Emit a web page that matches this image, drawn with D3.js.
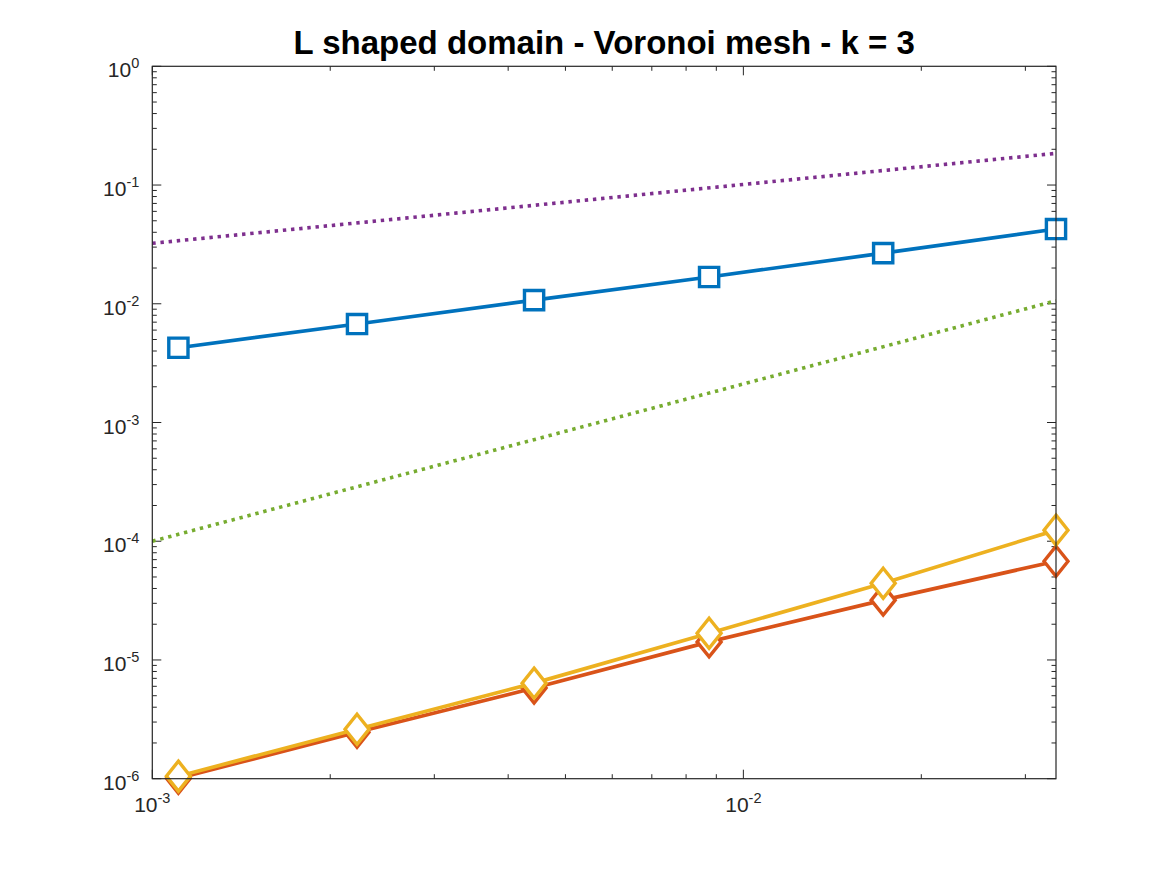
<!DOCTYPE html>
<html>
<head>
<meta charset="utf-8">
<script src="https://cdn.jsdelivr.net/npm/d3@7"></script>
<style>
  html, body { margin: 0; padding: 0; background: #fff; }
  text { font-family: "Liberation Sans", Arial, Helvetica, sans-serif; fill: #262626; }
</style>
</head>
<body>
<script>
// mesh size h and errors
var hVals = [0.001107, 0.00222, 0.004425, 0.00875, 0.01724, 0.0338]
var errBlue = [0.00426, 0.00675, 0.01074, 0.0168, 0.0267, 0.0426]
var errOrange = [1.01e-6, 2.46e-6, 5.8e-6, 1.42e-5, 3.19e-5, 6.79e-5]
var errYellow = [1.05e-6, 2.61e-6, 6.38e-6, 1.68e-5, 4.43e-5, 1.24e-4]

// reference slopes (dotted), endpoints only
var refX = [0.001, 0.0338]
var refPurple = [0.0323, 0.185]
var refGreen = [1.0e-4, 0.0106]

var xTicks = [1e-3, 1e-2]
var xTickExp = ["-3", "-2"]
var yTicks = [1e0, 1e-1, 1e-2, 1e-3, 1e-4, 1e-5, 1e-6]
var yTickExp = ["0", "-1", "-2", "-3", "-4", "-5", "-6"]

var W = 1167, H = 875
var mLeft = 152.3, mRight = 1056, mTop = 66.3, mBottom = 778.7

var svg = d3.select("body").append("svg")
  .attr("width", W).attr("height", H)

var x = d3.scaleLog().domain([1e-3, 0.0338]).range([mLeft, mRight])
var y = d3.scaleLog().domain([1e-6, 1]).range([mBottom, mTop])

// title
svg.append("text")
  .attr("x", (mLeft + mRight) / 2).attr("y", 54)
  .attr("text-anchor", "middle")
  .attr("font-size", "33px").attr("font-weight", "bold")
  .style("fill", "#000")
  .text("L shaped domain - Voronoi mesh - k = 3")

// minor tick values
var yMinor = []
yTicks.slice(1).forEach(function(d) {
  for (var k = 2; k <= 9; k++) yMinor.push(d * k)
})
var xMinor = []
for (var k = 2; k <= 9; k++) xMinor.push(1e-3 * k)
xMinor.push(2e-2, 3e-2)

var ax = svg.append("g").attr("stroke", "#262626").attr("stroke-width", 1)

// ticks on all four sides, pointing inward
function yTick(v, len) {
  ax.append("line").attr("x1", mLeft).attr("x2", mLeft + len).attr("y1", y(v)).attr("y2", y(v))
  ax.append("line").attr("x1", mRight).attr("x2", mRight - len).attr("y1", y(v)).attr("y2", y(v))
}
function xTick(v, len) {
  ax.append("line").attr("y1", mBottom).attr("y2", mBottom - len).attr("x1", x(v)).attr("x2", x(v))
  ax.append("line").attr("y1", mTop).attr("y2", mTop + len).attr("x1", x(v)).attr("x2", x(v))
}
yTicks.forEach(function(v) { yTick(v, 9) })
yMinor.forEach(function(v) { yTick(v, 4.5) })
xTicks.forEach(function(v) { xTick(v, 9) })
xMinor.forEach(function(v) { xTick(v, 4.5) })

// tick labels as 10^n
yTicks.forEach(function(v, i) {
  var t = svg.append("text")
    .attr("x", mLeft - 13).attr("y", y(v) + 11)
    .attr("text-anchor", "end")
    .style("font-size", "21px")
  t.append("tspan").text("10")
  t.append("tspan").attr("dy", -9).style("font-size", "14.5px").text(yTickExp[i])
})
xTicks.forEach(function(v, i) {
  var t = svg.append("text")
    .attr("x", x(v)).attr("y", mBottom + 33.3)
    .attr("text-anchor", "middle")
    .style("font-size", "21px")
  t.append("tspan").text("10")
  t.append("tspan").attr("dy", -9).style("font-size", "14.5px").text(xTickExp[i])
})

var line = d3.line()
  .x(function(d) { return x(d[0]) })
  .y(function(d) { return y(d[1]) })

function series(vals, color, marker) {
  var pts = d3.zip(hVals, vals)
  svg.append("path").datum(pts)
    .attr("d", line)
    .attr("fill", "none").attr("stroke", color).attr("stroke-width", 3.7)
  svg.selectAll(null).data(pts).enter()
    .append("path")
    .attr("d", marker)
    .attr("transform", function(d) { return "translate(" + x(d[0]) + "," + y(d[1]) + ")" })
    .attr("fill", "#fff").attr("stroke", color).attr("stroke-width", 3.4)
}
var square = "M-9.6,-9.6L9.6,-9.6L9.6,9.6L-9.6,9.6Z"
var diamond = "M0,-15L12,0L0,15L-12,0Z"

series(errBlue, "#0072BD", square)
series(errOrange, "#D95319", diamond)
series(errYellow, "#EDB120", diamond)

function refLine(vals, color) {
  svg.append("path").datum(d3.zip(refX, vals))
    .attr("d", line)
    .attr("fill", "none").attr("stroke", color).attr("stroke-width", 3.6)
    .attr("stroke-dasharray", "3.4,4.8")
}
refLine(refPurple, "#7E2F8E")
refLine(refGreen, "#77AC30")

// axes box
svg.append("rect")
  .attr("x", mLeft).attr("y", mTop)
  .attr("width", mRight - mLeft).attr("height", mBottom - mTop)
  .attr("fill", "none").attr("stroke", "#262626").attr("stroke-width", 1.2)
</script>
</body>
</html>
